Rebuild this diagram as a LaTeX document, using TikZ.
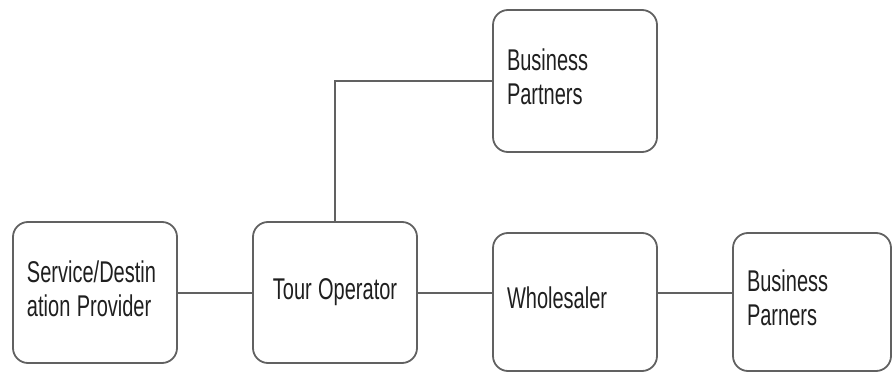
\documentclass[tikz,border=0pt]{standalone}
\usepackage{fontspec}
\usepackage{graphicx}
\setmainfont{Liberation Sans}
\newcommand\nar[1]{\scalebox{0.667}[1]{\fontsize{30}{34}\selectfont\spaceskip=0.32em plus 0.1em\begin{tabular}{@{}l@{}}#1\end{tabular}}}
\begin{document}
\begin{tikzpicture}[x=1pt,y=-1pt,
  box/.style={draw=black!62, line width=1.8pt, rounded corners=15pt, rectangle,
    inner sep=0pt, outer sep=0pt, minimum height=140pt, text=black!88, align=left},
  link/.style={draw=black!62, line width=1.8pt}]
\useasboundingbox (0,0) rectangle (892,372);
\node[box, minimum width=164pt, minimum height=141pt, text width=136pt] (sdp) at (95,292.5) {\nar{Service/Destin\\ation Provider}};
\node[box, minimum width=164pt, minimum height=141pt, text width=136pt, align=center] (to) at (335,292.5) {\raisebox{3pt}{\nar{Tour Operator}}};
\node[box, minimum width=164pt, minimum height=138pt, text width=136pt] (wh) at (575,302) {\nar{Wholesaler}};
\node[box, minimum width=158pt, minimum height=138pt, text width=130pt] (bp2) at (812,302) {\nar{Business\\Parners}};
\node[box, minimum width=164pt, minimum height=142pt, text width=136pt] (bp1) at (575,81) {\nar{Business\\Partners}};
\draw[link] (sdp.east |- 0,293) -- (to.west |- 0,293);
\draw[link] (to.east |- 0,293) -- (wh.west |- 0,293);
\draw[link] (wh.east |- 0,293) -- (bp2.west |- 0,293);
\draw[link] (to.north) |- (bp1.west);
\end{tikzpicture}
\end{document}
